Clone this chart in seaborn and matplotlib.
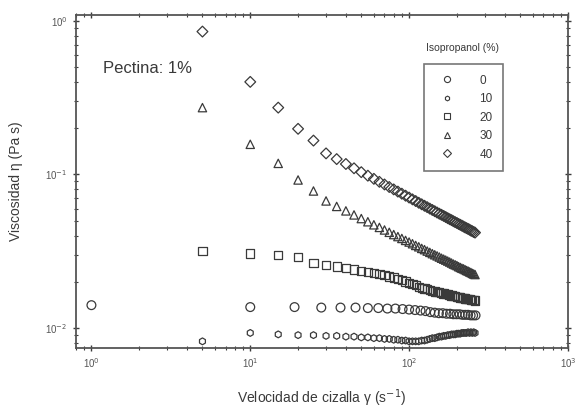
import numpy as np
import pandas as pd
import matplotlib
matplotlib.use("Agg")
import matplotlib.pyplot as plt
from matplotlib.lines import Line2D
from matplotlib.ticker import LogLocator, FixedLocator, NullFormatter
import seaborn as sns

# shear rate (s^-1)
shear_5 = [5, 10, 15, 20, 25, 30, 35, 40, 45, 50, 55, 60, 65, 70, 75, 80, 85, 90,
           95, 100, 105, 110, 115, 120, 125, 130, 135, 140, 145, 150, 155, 160,
           165, 170, 175, 180, 185, 190, 195, 200, 205, 210, 215, 220, 225, 230,
           235, 240, 245, 250, 255, 260]
shear_0 = [1, 10, 19, 28, 37, 46, 55, 64, 73, 82, 91, 100, 109, 118, 127, 136,
           145, 154, 163, 172, 181, 190, 199, 208, 217, 226, 235, 244, 253, 262]

# viscosity (Pa s) per isopropanol content
visc_0 = [0.0141, 0.0137, 0.0137, 0.0136, 0.0136, 0.0136, 0.0135, 0.0135, 0.0134,
          0.0134, 0.0133, 0.0132, 0.0131, 0.0130, 0.0129, 0.0127, 0.0126, 0.0125,
          0.0125, 0.0124, 0.0124, 0.0123, 0.0123, 0.0123, 0.0122, 0.0122, 0.0122,
          0.0121, 0.0121, 0.0121]
visc_10 = [0.0082, 0.0093, 0.0091, 0.0090, 0.0090, 0.0089, 0.0089, 0.0088, 0.0088,
           0.0087, 0.0087, 0.0086, 0.0086, 0.0085, 0.0085, 0.0084, 0.0084, 0.0083,
           0.0083, 0.0082, 0.0082, 0.0082, 0.0082, 0.0083, 0.0083, 0.0084, 0.0085,
           0.0086, 0.0086, 0.0087, 0.0088, 0.0088, 0.0089, 0.0089, 0.0090, 0.0090,
           0.0091, 0.0091, 0.0091, 0.0092, 0.0092, 0.0092, 0.0093, 0.0093, 0.0093,
           0.0093, 0.0094, 0.0093, 0.0094, 0.0093, 0.0094, 0.0093]
visc_20 = [0.0316, 0.0306, 0.0300, 0.0291, 0.0266, 0.0258, 0.0252, 0.0246, 0.0241,
           0.0236, 0.0232, 0.0228, 0.0225, 0.0221, 0.0217, 0.0213, 0.0209, 0.0205,
           0.0201, 0.0197, 0.0194, 0.0190, 0.0186, 0.0183, 0.0181, 0.0179, 0.0177,
           0.0175, 0.0173, 0.0172, 0.0171, 0.0169, 0.0168, 0.0167, 0.0166, 0.0164,
           0.0163, 0.0162, 0.0161, 0.0160, 0.0159, 0.0158, 0.0157, 0.0157, 0.0156,
           0.0155, 0.0154, 0.0154, 0.0153, 0.0152, 0.0152, 0.0151]
visc_30 = [0.272, 0.157, 0.118, 0.092, 0.078, 0.0672, 0.0619, 0.0579, 0.0545,
           0.0516, 0.0492, 0.0470, 0.0452, 0.0435, 0.0420, 0.0406, 0.0394, 0.0383,
           0.0372, 0.0363, 0.0354, 0.0345, 0.0338, 0.0330, 0.0324, 0.0317, 0.0311,
           0.0305, 0.0300, 0.0295, 0.0290, 0.0285, 0.0281, 0.0277, 0.0273, 0.0269,
           0.0265, 0.0261, 0.0258, 0.0255, 0.0251, 0.0248, 0.0245, 0.0243, 0.0240,
           0.0237, 0.0235, 0.0232, 0.0230, 0.0227, 0.0225, 0.0223]
visc_40 = [0.85, 0.40, 0.272, 0.198, 0.166, 0.137, 0.1258, 0.1169, 0.1096, 0.1034,
           0.0981, 0.0936, 0.0895, 0.0860, 0.0828, 0.0799, 0.0773, 0.0749, 0.0727,
           0.0707, 0.0688, 0.0671, 0.0654, 0.0639, 0.0625, 0.0612, 0.0599, 0.0587,
           0.0576, 0.0565, 0.0555, 0.0546, 0.0537, 0.0528, 0.0519, 0.0511, 0.0504,
           0.0496, 0.0489, 0.0483, 0.0476, 0.0470, 0.0464, 0.0458, 0.0452, 0.0447,
           0.0442, 0.0437, 0.0431, 0.0427, 0.0422, 0.0418]

labels = ["0", "10", "20", "30", "40"]
series = [(shear_0, visc_0), (shear_5, visc_10), (shear_5, visc_20),
          (shear_5, visc_30), (shear_5, visc_40)]
markers = ["o", "h", "s", "^", "D"]
msizes = [40, 24, 36, 36, 30]

sns.set_style("ticks")
plt.rcParams["font.family"] = ["Liberation Sans", "DejaVu Sans"]
ink = "#3a3a3a"

fig = plt.figure(figsize=(5.76, 4.16), dpi=100)
ax = fig.add_axes([0.132, 0.163, 0.854, 0.801])

for (xs, ys), m, s in zip(series, markers, msizes):
    sns.scatterplot(x=xs, y=ys, marker=m, s=s, facecolor="none",
                    edgecolor=ink, linewidth=0.9, ax=ax, legend=False)

ax.set_xscale("log")
ax.set_yscale("log")
ax.set_xlim(0.8, 1000)
ax.set_ylim(0.0074, 1.09)

ax.xaxis.set_major_locator(FixedLocator([1, 10, 100, 1000]))
ax.yaxis.set_major_locator(FixedLocator([0.01, 0.1, 1]))
ax.xaxis.set_minor_locator(LogLocator(base=10, subs=np.arange(2, 10), numticks=20))
ax.yaxis.set_minor_locator(LogLocator(base=10, subs=np.arange(2, 10), numticks=20))
ax.xaxis.set_minor_formatter(NullFormatter())
ax.yaxis.set_minor_formatter(NullFormatter())
ax.set_xticklabels(["10$^{0}$", "10$^{1}$", "10$^{2}$", "10$^{3}$"])
ax.set_yticklabels(["10$^{-2}$", "10$^{-1}$", "10$^{0}$"])

ax.tick_params(which="both", direction="inout", top=True, right=True,
               color=ink, labelsize=7, labelcolor="#555555")
ax.tick_params(which="major", length=5, width=1)
ax.tick_params(which="minor", length=3, width=0.8)
for sp in ax.spines.values():
    sp.set_color("#555555")
    sp.set_linewidth(1.3)

ax.set_xlabel("Velocidad de cizalla γ (s$^{-1}$)", fontsize=10, color=ink, labelpad=12)
ax.set_ylabel("Viscosidad η (Pa s)", fontsize=10, color=ink, labelpad=16)

ax.text(0.055, 0.838, "Pectina: 1%", transform=ax.transAxes, fontsize=12,
        color=ink, va="center", ha="left")

handles = [Line2D([], [], linestyle="none", marker=m, markersize=np.sqrt(s) * 0.7,
                  markerfacecolor="none", markeredgecolor=ink, markeredgewidth=0.8)
           for m, s in zip(markers, msizes)]
leg = ax.legend(handles, labels, loc="upper left", bbox_to_anchor=(0.707, 0.853),
                frameon=True, fancybox=False, fontsize=8.5, labelspacing=0.55,
                handletextpad=1.6, borderpad=0.9, borderaxespad=0, handlelength=2.2)
leg.get_frame().set_edgecolor("#555555")
leg.get_frame().set_linewidth(1.2)
for t in leg.get_texts():
    t.set_color(ink)
ax.text(0.786, 0.90, "Isopropanol (%)", transform=ax.transAxes, fontsize=7.5,
        color=ink, ha="center", va="center")

fig.savefig("out.png", dpi=100)
